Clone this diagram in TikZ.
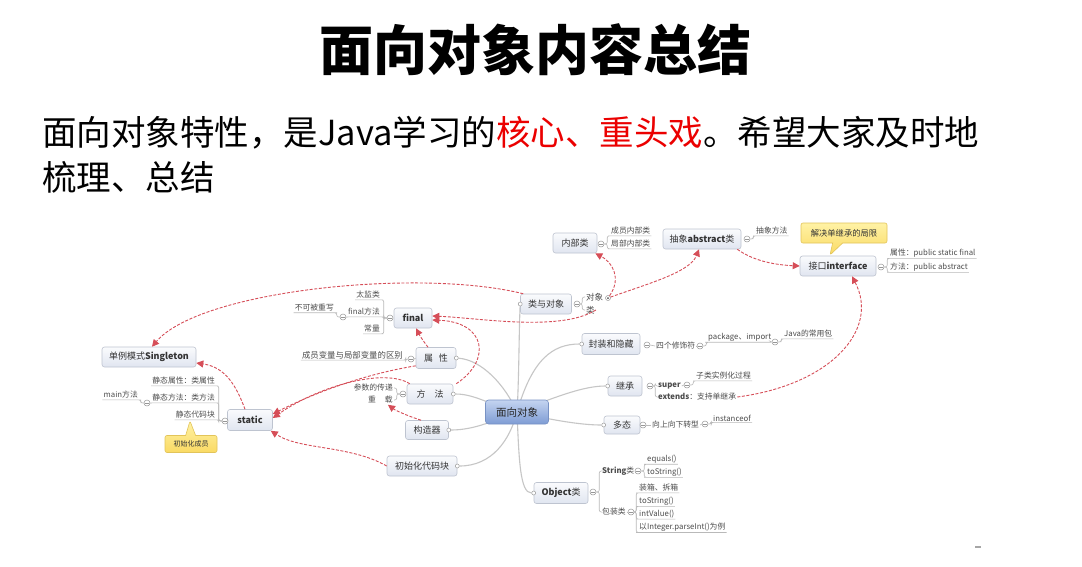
\documentclass[tikz,border=0pt]{standalone}
\usepackage{fontspec}
\setmainfont{Noto Sans CJK SC}
\usetikzlibrary{arrows.meta,shapes.callouts,backgrounds}

\definecolor{topicline}{RGB}{190,196,208}
\definecolor{topictop}{RGB}{250,251,253}
\definecolor{topicbot}{RGB}{224,229,240}
\definecolor{coreline}{RGB}{120,146,196}
\definecolor{coretop}{RGB}{196,212,240}
\definecolor{corebot}{RGB}{126,156,212}
\definecolor{noteline}{RGB}{226,196,90}
\definecolor{notetop}{RGB}{255,242,165}
\definecolor{notebot}{RGB}{250,218,100}
\definecolor{branchline}{RGB}{198,198,198}
\definecolor{bracketline}{RGB}{185,185,185}
\definecolor{foldline}{RGB}{150,150,150}
\definecolor{relred}{RGB}{214,78,88}
\definecolor{hot}{RGB}{235,0,0}

\tikzset{
  topic/.style={draw=topicline, line width=0.6pt, rounded corners=2.5pt,
    top color=topictop, bottom color=topicbot, text=black!80,
    font=\fontsize{9}{10}\selectfont, inner sep=0pt, minimum height=20pt},
  core/.style={draw=coreline, line width=0.6pt, rounded corners=3pt,
    top color=coretop, bottom color=corebot, text=black!85,
    font=\fontsize{10.5}{12}\selectfont, inner sep=0pt,
    minimum width=63pt, minimum height=24pt},
  note/.style={rectangle callout, draw=noteline, line width=0.6pt,
    rounded corners=2pt, top color=notetop, bottom color=notebot,
    text=black!80, inner sep=0pt, minimum height=17pt,
    callout pointer width=10pt},
  leaf/.style={font=\fontsize{7.8}{9}\selectfont, text=black!70, inner sep=1pt},
  fold/.style={circle, draw=foldline, fill=white, line width=0.5pt,
    minimum size=6pt, inner sep=0pt,
    path picture={\draw[foldline, line width=0.6pt]
      ([xshift=-1.7pt]path picture bounding box.center) --
      ([xshift=1.7pt]path picture bounding box.center);}},
  joint/.style={circle, draw=foldline, fill=white, line width=0.5pt,
    minimum size=5pt, inner sep=0pt,
    path picture={\fill[black!70] (path picture bounding box.center) circle (1pt);}},
  knob/.style={circle, draw=branchline!80!black, fill=white, line width=0.5pt,
    minimum size=4pt, inner sep=0pt},
  branch/.style={draw=branchline, line width=1.1pt},
  bline/.style={draw=bracketline, line width=0.6pt, rounded corners=2pt},
  rel/.style={draw=relred, dash pattern=on 3pt off 1.6pt, line width=0.9pt,
    -{Triangle[length=7pt, width=7pt]}},
}

\begin{document}
\begin{tikzpicture}[x=1pt, y=-1pt]
\useasboundingbox (0,0) rectangle (1082,566);

% heading and introduction
\node[font=\fontsize{54}{54}\selectfont\bfseries] (title) at (535,50) {面向对象内容总结};
\node[anchor=west, inner sep=0pt, font=\fontsize{34.5}{36}\selectfont] (intro1) at (42,133)
  {面向对象特性，是Java学习的\textcolor{hot}{核心、重头戏}。希望大家及时地};
\node[anchor=west, inner sep=0pt, font=\fontsize{34.5}{36}\selectfont] (intro2) at (42,177)
  {梳理、总结};

% main topics
\node[core] (oo) at (517,412) {面向对象};
\node[topic, minimum width=51pt] (lei) at (546,304) {类与对象};
\node[topic, minimum width=58pt, minimum height=21pt] (fz) at (611,344) {封装和隐藏};
\node[topic, minimum width=34pt] (jc) at (625,386) {继承};
\node[topic, minimum width=36pt, minimum height=18pt] (dt) at (622,425) {多态};
\node[topic, minimum width=54pt, minimum height=21pt] (obj) at (561,493) {{\bfseries Object}类};
\node[topic, minimum width=40pt, minimum height=21pt] (sx) at (436,358) {属\hspace{6pt}性};
\node[topic, minimum width=46pt] (ff) at (430,394) {方\hspace{9pt}法};
\node[topic, minimum width=43pt, minimum height=19pt] (gz) at (427,430) {构造器};
\node[topic, minimum width=70pt] (cs) at (422,466) {初始化代码块};

% secondary topics
\node[topic, minimum width=38pt] (fin) at (413,318) {\bfseries final};
\node[topic, minimum width=45pt, minimum height=21pt] (st) at (250,420) {\bfseries static};
\node[topic, minimum width=94pt] (sg) at (149,357) {单例模式{\bfseries Singleton}};
\node[topic, minimum width=44pt] (nb) at (575,243) {内部类};
\node[topic, minimum width=78pt] (ab) at (702,239) {抽象{\bfseries abstract}类};
\node[topic, minimum width=76pt] (jk) at (838,266) {接口{\bfseries interface}};

% callouts
\node[note, minimum width=52pt, font=\fontsize{7}{8}\selectfont,
  callout absolute pointer={(190,421)}] (n1) at (191,444) {初始化成员};
\node[note, minimum width=86pt, minimum height=20pt, font=\fontsize{8.3}{9}\selectfont,
  callout absolute pointer={(830,255)}] (n2) at (844,233) {解决单继承的局限};

% knobs where branches meet the topics
\node[knob] (k_lei) at (lei.west) {};
\node[knob] (k_fz) at (fz.west) {};
\node[knob] (k_jc) at (jc.west) {};
\node[knob] (k_dt) at (dt.west) {};
\node[knob] (k_obj) at (obj.west) {};
\node[knob] (k_sx) at (sx.east) {};
\node[knob] (k_ff) at (ff.east) {};
\node[knob] (k_gz) at (gz.east) {};
\node[knob] (k_cs) at (cs.east) {};

% branches from the central topic
\begin{scope}[on background layer]
  \fill[white] (0,0) rectangle (1082,566);
  \draw[branch] (oo.center) .. controls (519,380) and (519,330) .. (k_lei);
  \draw[branch] (oo.center) .. controls (519,460) and (520,493) .. (k_obj);
  \draw[branch] (oo.center) .. controls (532,360) and (552,344) .. (k_fz);
  \draw[branch] (oo.center) .. controls (560,395) and (585,386) .. (k_jc);
  \draw[branch] (oo.center) .. controls (560,422) and (585,425) .. (k_dt);
  \draw[branch] (k_sx) .. controls (482,360) and (505,385) .. (oo.center);
  \draw[branch] (k_ff) .. controls (475,394) and (490,405) .. (oo.center);
  \draw[branch] (k_gz) .. controls (475,430) and (495,420) .. (oo.center);
  \draw[branch] (k_cs) .. controls (492,466) and (510,440) .. (oo.center);
\end{scope}

% 类与对象
\node[fold] (f_lei) at (577,304) {};
\node[leaf, anchor=west, font=\fontsize{8.5}{9}\selectfont] (dx1) at (585,297) {对象};
\node[leaf, anchor=west, font=\fontsize{8.5}{9}\selectfont] (dx2) at (585,310) {类};
\node[joint] (cdx) at (608,298) {};
\draw[bline] (f_lei.east) -- ++(2,0) |- (dx1.west);
\draw[bline] (f_lei.east) -- ++(2,0) |- (dx2.west);

% 内部类
\node[fold] (f_nb) at (601,244) {};
\node[leaf, anchor=west] (nb1) at (610,231) {成员内部类};
\node[leaf, anchor=west] (nb2) at (610,244) {局部内部类};
\draw[bline] (f_nb.east) -- ++(3,0) |- (nb1.south west) -- (nb1.south east);
\draw[bline] (f_nb.east) -- ++(3,0) |- (nb2.south west) -- (nb2.south east);

% 抽象abstract类
\node[fold] (f_ab) at (747,239) {};
\node[leaf, anchor=west] (ab1) at (755,231) {抽象方法};
\draw[bline] (f_ab.east) -- ++(3,0) |- (ab1.south west) -- (ab1.south east);

% 接口interface
\node[fold] (f_jk) at (881,267) {};
\node[leaf, anchor=west] (jk1) at (889,253) {属性：public static final};
\node[leaf, anchor=west] (jk2) at (889,267) {方法：public abstract};
\draw[bline] (f_jk.east) -- ++(3,0) |- (jk1.south west) -- (jk1.south east);
\draw[bline] (f_jk.east) -- ++(3,0) |- (jk2.south west) -- (jk2.south east);

% 封装和隐藏
\node[fold] (f_fz) at (647,345) {};
\node[leaf, anchor=west] (fz1) at (655,346) {四个修饰符};
\node[fold] (f_fz1) at (700,346) {};
\node[leaf, anchor=west] (fz2) at (707,337) {package、import};
\node[fold] (f_fz2) at (775,342) {};
\node[leaf, anchor=west] (fz3) at (783,334) {Java的常用包};
\draw[bline] (f_fz.east) -- (fz1.west);
\draw[bline] (fz1.east) -- (f_fz1.west);
\draw[bline] (f_fz1.east) -- ++(3,0) |- (fz2.south west) -- (fz2.south east) -- (f_fz2.west);
\draw[bline] (f_fz2.east) -- ++(3,0) |- (fz3.south west) -- (fz3.south east);

% 继承
\node[fold] (f_jc) at (650,386) {};
\node[leaf, anchor=west] (jc1) at (657,386) {\bfseries super};
\node[fold] (f_jc1) at (687,385) {};
\node[leaf, anchor=west] (jc11) at (695,376) {子类实例化过程};
\node[leaf, anchor=west] (jc2) at (657,397) {{\bfseries extends}：支持单继承};
\draw[bline] (f_jc.east) -- ++(2,0) |- (jc1.west);
\draw[bline] (f_jc.east) -- ++(2,0) |- (jc2.west);
\draw[bline] (jc1.east) -- (f_jc1.west);
\draw[bline] (f_jc1.east) -- ++(3,0) |- (jc11.south west) -- (jc11.south east);

% 多态
\node[fold] (f_dt) at (643,425) {};
\node[leaf, anchor=west] (dt1) at (651,425) {向上向下转型};
\node[fold] (f_dt1) at (705,424) {};
\node[leaf, anchor=west] (dt11) at (712,418) {instanceof};
\draw[bline] (f_dt.east) -- (dt1.west);
\draw[bline] (dt1.east) -- (f_dt1.west);
\draw[bline] (f_dt1.east) -- ++(3,0) |- (dt11.south west) -- (dt11.south east);

% Object类
\node[fold] (f_obj) at (593,492) {};
\node[leaf, anchor=west] (ob1) at (601,471) {{\bfseries String}类};
\node[fold] (f_ob1) at (638,471) {};
\node[leaf, anchor=west] (ob11) at (646,459) {equals()};
\node[leaf, anchor=west] (ob12) at (646,472) {toString()};
\node[leaf, anchor=west] (ob2) at (601,512) {包装类};
\node[fold] (f_ob2) at (631,512) {};
\node[leaf, anchor=west] (ob21) at (638,488) {装箱、拆箱};
\node[leaf, anchor=west] (ob22) at (638,501) {toString()};
\node[leaf, anchor=west] (ob23) at (638,514) {intValue()};
\node[leaf, anchor=west] (ob24) at (638,527) {以Integer.parseInt()为例};
\draw[bline] (f_obj.east) -- ++(3,0) |- (ob1.west);
\draw[bline] (f_obj.east) -- ++(3,0) |- (ob2.west);
\draw[bline] (ob1.east) -- (f_ob1.west);
\draw[bline] (ob2.east) -- (f_ob2.west);
\foreach \lf in {ob11,ob12}
  \draw[bline] (f_ob1.east) -- ++(3,0) |- (\lf.south west) -- (\lf.south east);
\foreach \lf in {ob21,ob22,ob23,ob24}
  \draw[bline] (f_ob2.east) -- ++(2,0) |- (\lf.south west) -- (\lf.south east);

% final
\node[fold] (f_fin) at (390,318) {};
\node[leaf, anchor=east] (fi1) at (381,295) {太监类};
\node[leaf, anchor=east] (fi2) at (381,312) {final方法};
\node[leaf, anchor=east] (fi3) at (381,329) {常量};
\node[fold] (f_fi2) at (343,317) {};
\node[leaf, anchor=east] (fi21) at (335,308) {不可被重写};
\foreach \lf in {fi1,fi3}
  \draw[bline] (f_fin.west) -- ++(-3,0) |- (\lf.south east) -- (\lf.south west);
\draw[bline] (f_fin.west) -- ++(-3,0) |- (fi2.south east) -- (fi2.south west) -- (f_fi2.east);
\draw[bline] (f_fi2.west) -- ++(-3,0) |- (fi21.south east) -- (fi21.south west);

% 属性
\node[fold] (f_sx) at (411,359) {};
\node[leaf, anchor=east, font=\fontsize{8.4}{9}\selectfont] (sx1) at (404,355) {成员变量与局部变量的区别};
\draw[bline] (sx.west) -- (f_sx.east);
\draw[bline] (f_sx.west) -- ++(-2,0) |- (sx1.south east) -- (sx1.south west);

% 方法
\node[fold] (f_ff) at (403,394) {};
\node[leaf, anchor=east] (ff1) at (394,388) {参数的传递};
\node[leaf, anchor=east] (ff2) at (394,400) {重\hspace{9pt}载};
\draw[bline] (f_ff.west) -- ++(-3,0) |- (ff1.east);
\draw[bline] (f_ff.west) -- ++(-3,0) |- (ff2.east);

% static
\node[fold] (f_st) at (225,421) {};
\node[leaf, anchor=east] (st1) at (216,381) {静态属性：类属性};
\node[leaf, anchor=east] (st2) at (216,398) {静态方法：类方法};
\node[leaf, anchor=east] (st3) at (216,415) {静态代码块};
\node[fold] (f_st2) at (147,403) {};
\node[leaf, anchor=east] (st21) at (139,395) {main方法};
\draw[bline] (st.west) -- (f_st.east);
\foreach \lf in {st1,st3}
  \draw[bline] (f_st.west) -- ++(-3,0) |- (\lf.south east) -- (\lf.south west);
\draw[bline] (f_st.west) -- ++(-3,0) |- (st2.south east) -- (st2.south west) -- (f_st2.east);
\draw[bline] (f_st2.west) -- ++(-3,0) |- (st21.south east) -- (st21.south west);

% relationships between topics
\draw[rel] (cdx) .. controls (622,278) and (612,262) .. ([xshift=-2pt]nb.south east);
\draw[rel] (cdx) .. controls (650,283) and (690,272) .. ([xshift=-3pt]ab.south);
\draw[rel] ([xshift=-4pt]ab.south east) .. controls (755,262) and (778,265) .. (jk.west);
\draw[rel] (jc2.east) .. controls (830,385) and (880,330) .. ([xshift=14pt]jk.south);
\draw[rel] ([xshift=3pt]lei.north west) .. controls (420,268) and (200,290) .. ([xshift=3pt]sg.north);
\draw[rel] (dx2.east) .. controls (560,332) and (480,318) .. ([yshift=2pt]fin.east);
\draw[rel] ([xshift=3pt]ff.north east) .. controls (492,360) and (486,322) .. ([yshift=-2pt]fin.east);
\draw[rel] ([xshift=-8pt]sx.north) .. controls (424,342) and (420,336) .. ([xshift=3pt]fin.south);
\draw[rel] ([yshift=3pt]sx.south west) .. controls (360,375) and (310,395) .. ([yshift=6pt]st.east);
\draw[rel] ([xshift=3pt]ff.north west) .. controls (385,368) and (320,385) .. ([yshift=2pt]st.east);
\draw[rel] ([xshift=-6pt]gz.north) .. controls (405,415) and (395,410) .. ([xshift=-6pt]ff2.south east);
\draw[rel] (cs.west) .. controls (350,445) and (300,450) .. ([xshift=-2pt]st.south east);
\draw[rel] ([xshift=-5pt]st.north) .. controls (236,385) and (225,367) .. ([yshift=-6pt]sg.east);

% small grey mark at the lower right
\node[fill=black!35, minimum width=6pt, minimum height=1.5pt, inner sep=0pt] (mark) at (978,547) {};
\end{tikzpicture}
\end{document}
